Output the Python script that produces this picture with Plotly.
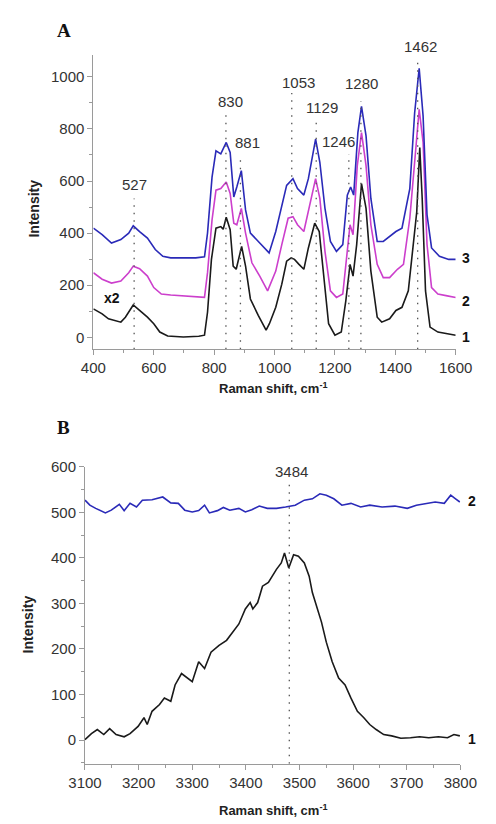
import plotly.graph_objects as go

# ---------------- Panel A data (Raman shift, cm-1 / Intensity) ----------------
a1_x = [400, 429, 450, 470, 491, 506, 532, 553, 579, 600, 620, 646, 698, 749, 768, 778, 791, 806, 822, 830, 840, 853, 863, 873, 891, 904, 920, 946, 972, 983, 1004, 1024, 1040, 1055, 1066, 1081, 1097, 1112, 1133, 1148, 1164, 1179, 1200, 1221, 1236, 1250, 1260, 1272, 1288, 1303, 1319, 1340, 1355, 1381, 1402, 1422, 1443, 1458, 1471, 1481, 1489, 1500, 1515, 1541, 1572, 1600]
a1_y = [109, 90, 71, 65, 58, 77, 124, 103, 77, 52, 20, 5, 1, 4, 8, 96, 299, 419, 425, 415, 461, 413, 273, 261, 349, 273, 147, 84, 27, 52, 115, 204, 292, 305, 299, 280, 261, 343, 438, 406, 216, 52, 8, 20, 140, 280, 235, 356, 590, 495, 254, 77, 58, 71, 103, 115, 178, 330, 482, 729, 533, 178, 39, 20, 14, 8]

a2_x = [400, 429, 460, 491, 517, 532, 553, 579, 600, 625, 656, 698, 739, 768, 778, 793, 806, 822, 840, 853, 865, 875, 890, 904, 925, 951, 977, 1004, 1024, 1045, 1061, 1076, 1097, 1117, 1136, 1150, 1167, 1185, 1205, 1226, 1239, 1250, 1260, 1274, 1288, 1303, 1319, 1340, 1360, 1381, 1407, 1427, 1448, 1464, 1479, 1492, 1505, 1520, 1541, 1572, 1600]
a2_y = [248, 223, 208, 216, 248, 273, 263, 235, 191, 166, 162, 159, 157, 153, 248, 451, 565, 571, 596, 552, 438, 432, 495, 400, 286, 235, 178, 254, 356, 457, 463, 432, 406, 508, 609, 533, 330, 178, 153, 166, 305, 432, 394, 659, 786, 659, 432, 280, 229, 229, 261, 280, 457, 685, 875, 748, 356, 191, 166, 159, 153]

a3_x = [400, 429, 460, 491, 517, 532, 553, 579, 605, 630, 656, 698, 739, 768, 778, 793, 806, 822, 830, 840, 853, 865, 875, 890, 904, 920, 951, 982, 1004, 1024, 1040, 1061, 1076, 1097, 1112, 1136, 1150, 1167, 1185, 1205, 1226, 1241, 1252, 1262, 1276, 1288, 1303, 1319, 1340, 1360, 1381, 1402, 1422, 1448, 1464, 1479, 1492, 1505, 1520, 1546, 1577, 1600]
a3_y = [419, 394, 362, 375, 400, 428, 406, 381, 337, 311, 305, 305, 305, 309, 400, 615, 716, 704, 723, 748, 710, 539, 577, 640, 489, 400, 362, 324, 406, 508, 583, 609, 571, 546, 609, 761, 672, 495, 368, 330, 356, 546, 577, 546, 786, 887, 773, 533, 368, 368, 387, 406, 419, 571, 862, 1033, 849, 470, 343, 311, 299, 299]

a_peak_labels = ["527", "830", "881", "1053", "1129", "1246", "1280", "1462"]
a_peak_line_x = [535, 839, 887, 1057, 1138, 1246, 1286, 1474]
a_peak_line_top = [533, 865, 700, 938, 824, 704, 906, 1077]
a_label_x = [535, 853, 912, 1078, 1156, 1212, 1288, 1483]
a_label_y = [585, 907, 748, 978, 881, 750, 976, 1115]
a_curve_names = ["1", "2", "3"]
a_curve_end_y = [0, 140, 304]

# ---------------- Panel B data ----------------
b1_x = [3100, 3112, 3123, 3135, 3146, 3158, 3173, 3184, 3199, 3210, 3216, 3225, 3239, 3248, 3260, 3268, 3280, 3292, 3300, 3312, 3323, 3335, 3350, 3364, 3376, 3387, 3399, 3408, 3413, 3422, 3431, 3442, 3457, 3466, 3472, 3480, 3489, 3498, 3509, 3518, 3524, 3532, 3541, 3550, 3561, 3573, 3585, 3596, 3608, 3620, 3631, 3643, 3657, 3672, 3689, 3707, 3724, 3741, 3759, 3776, 3788, 3799]
b1_y = [1, 14, 23, 12, 25, 12, 7, 14, 30, 49, 34, 63, 78, 92, 85, 121, 146, 136, 128, 172, 157, 193, 208, 219, 237, 255, 288, 302, 288, 302, 338, 346, 375, 389, 411, 378, 407, 404, 389, 360, 324, 295, 259, 215, 172, 136, 121, 92, 63, 49, 34, 23, 12, 9, 4, 5, 7, 5, 7, 5, 12, 9]

b2_x = [3100, 3109, 3120, 3138, 3149, 3164, 3173, 3184, 3196, 3207, 3225, 3245, 3260, 3274, 3286, 3300, 3312, 3323, 3332, 3347, 3358, 3370, 3387, 3399, 3411, 3425, 3440, 3457, 3474, 3492, 3509, 3524, 3538, 3550, 3564, 3579, 3596, 3614, 3631, 3654, 3678, 3701, 3718, 3736, 3753, 3770, 3782, 3791, 3799]
b2_y = [527, 516, 509, 499, 505, 518, 504, 520, 512, 527, 528, 534, 521, 520, 505, 501, 504, 516, 499, 504, 511, 505, 509, 501, 506, 514, 509, 509, 512, 516, 527, 530, 541, 538, 530, 516, 520, 512, 516, 512, 514, 509, 516, 520, 523, 520, 538, 530, 523]

b_peak_label = "3484"
b_peak_line_x = 3481
b_peak_line_top = 563
b_label_pos = (3485, 589)
b_curve_names = ["1", "2"]
b_curve_end_y = [2, 526]

BLACK = "#1a1a1a"
MAGENTA = "#cc3fcc"
BLUE = "#2a2ab8"
DOT = "#555555"
AXC = "#9a9a9a"
FONT = "Liberation Sans"
DOTDASH = "1.5px,6px"

fig = go.Figure()

for xs, ys, c in [(a1_x, a1_y, BLACK), (a2_x, a2_y, MAGENTA), (a3_x, a3_y, BLUE)]:
    fig.add_trace(go.Scatter(x=xs, y=ys, mode="lines", line=dict(color=c, width=1.6),
                             xaxis="x", yaxis="y", showlegend=False, hoverinfo="skip"))

for lx, top in zip(a_peak_line_x, a_peak_line_top):
    fig.add_trace(go.Scatter(x=[lx, lx], y=[-46, top], mode="lines",
                             line=dict(color=DOT, width=1.3, dash=DOTDASH),
                             xaxis="x", yaxis="y", showlegend=False, hoverinfo="skip"))

for xs, ys, c in [(b1_x, b1_y, BLACK), (b2_x, b2_y, BLUE)]:
    fig.add_trace(go.Scatter(x=xs, y=ys, mode="lines", line=dict(color=c, width=1.6),
                             xaxis="x2", yaxis="y2", showlegend=False, hoverinfo="skip"))
fig.add_trace(go.Scatter(x=[b_peak_line_x, b_peak_line_x], y=[-52, b_peak_line_top], mode="lines",
                         line=dict(color=DOT, width=1.3, dash=DOTDASH),
                         xaxis="x2", yaxis="y2", showlegend=False, hoverinfo="skip"))

YTOP_A = 1075  # highest y inside panel A range; labels above it are shifted up in pixels
PX_PER_UNIT_A = 263.3 / 1000

ann = []
for t, x, y in zip(a_peak_labels, a_label_x, a_label_y):
    if y > YTOP_A:
        ann.append(dict(text=t, x=x, y=YTOP_A, yshift=(y - YTOP_A) * PX_PER_UNIT_A,
                        xref="x", yref="y", showarrow=False,
                        font=dict(family=FONT, size=15, color="#333")))
    else:
        ann.append(dict(text=t, x=x, y=y, xref="x", yref="y", showarrow=False,
                        font=dict(family=FONT, size=15, color="#333")))
for t, y in zip(a_curve_names, a_curve_end_y):
    ann.append(dict(text="<b>%s</b>" % t, x=1600, y=y, xref="x", yref="y", showarrow=False,
                    xanchor="left", xshift=4, font=dict(family=FONT, size=14, color="#111")))
ann.append(dict(text="<b>x2</b>", x=400, y=150, xref="x", yref="y", showarrow=False,
                xanchor="left", xshift=9, font=dict(family=FONT, size=14, color="#111")))
ann.append(dict(text=b_peak_label, x=b_label_pos[0], y=b_label_pos[1], xref="x2", yref="y2",
                showarrow=False, font=dict(family=FONT, size=15, color="#333")))
for t, y in zip(b_curve_names, b_curve_end_y):
    ann.append(dict(text="<b>%s</b>" % t, x=3800, y=y, xref="x2", yref="y2", showarrow=False,
                    xanchor="left", xshift=6, font=dict(family=FONT, size=14, color="#111")))

# panel letters and axis titles
W, H = 496, 824
def px(x): return x / W
def py(y): return 1 - y / H
C = dict(xref="paper", yref="paper", showarrow=False, xanchor="center", yanchor="middle")
ann += [
    dict(text="<b>A</b>", x=px(50), y=py(22), font=dict(family="Liberation Serif", size=19, color="#111"), **C),
    dict(text="<b>B</b>", x=px(50), y=py(423), font=dict(family="Liberation Serif", size=19, color="#111"), **C),
    dict(text="<b>Raman shift, cm<sup>-1</sup></b>", x=px(275), y=py(383),
         font=dict(family=FONT, size=13, color="#222"), **C),
    dict(text="<b>Raman shift, cm<sup>-1</sup></b>", x=px(275), y=py(810),
         font=dict(family=FONT, size=13, color="#222"), **C),
    dict(text="<b>Intensity</b>", x=px(18), y=py(202), textangle=-90,
         font=dict(family=FONT, size=14, color="#222"), **C),
    dict(text="<b>Intensity</b>", x=px(12), y=py(622), textangle=-90,
         font=dict(family=FONT, size=14, color="#222"), **C),
]

axis_common = dict(showline=True, linecolor=AXC, linewidth=1, ticks="outside", ticklen=5,
                   tickcolor=AXC, showgrid=False, zeroline=False,
                   tickfont=dict(family=FONT, size=15, color="#333"))

fig.update_layout(
    width=W, height=H, margin=dict(l=0, r=0, t=0, b=0),
    paper_bgcolor="white", plot_bgcolor="white", showlegend=False,
    annotations=ann,
    xaxis=dict(domain=[px(82), px(471)], range=[400, 1600], dtick=200, anchor="y",
               minor=dict(dtick=100, ticks="outside", ticklen=3, tickcolor=AXC), **axis_common),
    yaxis=dict(domain=[py(344), py(47)], range=[-46, 1082], dtick=200, anchor="x",
               minor=dict(dtick=100, ticks="outside", ticklen=3, tickcolor=AXC), **axis_common),
    xaxis2=dict(domain=[px(73), px(476)], range=[3100, 3800], dtick=100, anchor="y2",
                minor=dict(dtick=50, ticks="outside", ticklen=3, tickcolor=AXC), **axis_common),
    yaxis2=dict(domain=[py(763), py(463)], range=[-52, 600], dtick=100, anchor="x2",
                minor=dict(dtick=50, ticks="outside", ticklen=3, tickcolor=AXC), **axis_common),
)

fig.write_html("out.html")
